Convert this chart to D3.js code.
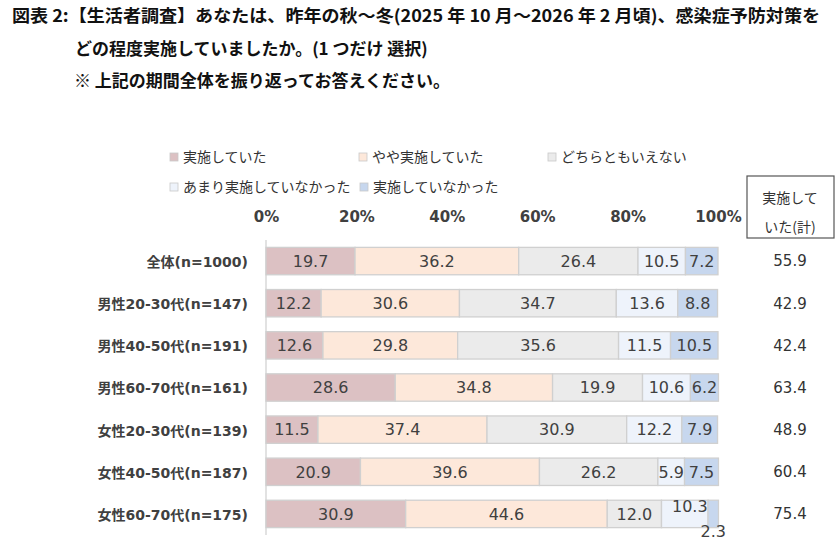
<!DOCTYPE html>
<html>
<head>
<meta charset="utf-8">
<script src="https://cdn.jsdelivr.net/npm/d3@7"></script>
<style>
  body { margin: 0; background: #fff; }
  svg { display: block; }
</style>
</head>
<body>
<div id="chart"></div>
<script>
  // Chart data
  var titleLines = [
    "図表 2:【生活者調査】あなたは、昨年の秋～冬(2025 年 10 月～2026 年 2 月頃)、感染症予防対策を",
    "どの程度実施していましたか。(1 つだけ 選択)",
    "※ 上記の期間全体を振り返ってお答えください。"
  ];
  var categories = ["全体(n=1000)", "男性20-30代(n=147)", "男性40-50代(n=191)", "男性60-70代(n=161)",
                    "女性20-30代(n=139)", "女性40-50代(n=187)", "女性60-70代(n=175)"];
  var seriesNames = ["実施していた", "やや実施していた", "どちらともいえない", "あまり実施していなかった", "実施していなかった"];
  var seriesColors = ["#dcc1c3", "#fde8da", "#ebebeb", "#eef3fb", "#c7d7ee"];
  var jisshi        = [19.7, 12.2, 12.6, 28.6, 11.5, 20.9, 30.9];
  var yaya          = [36.2, 30.6, 29.8, 34.8, 37.4, 39.6, 44.6];
  var dochira       = [26.4, 34.7, 35.6, 19.9, 30.9, 26.2, 12.0];
  var amari         = [10.5, 13.6, 11.5, 10.6, 12.2, 5.9, 10.3];
  var nashi         = [7.2, 8.8, 10.5, 6.2, 7.9, 7.5, 2.3];
  var totals        = [55.9, 42.9, 42.4, 63.4, 48.9, 60.4, 75.4];
  var tickValues    = [0, 20, 40, 60, 80, 100];
  var totalHeader   = ["実施して", "いた(計)"];

  var width = 840, height = 543;
  var sans = "'DejaVu Sans', 'Noto Sans CJK JP', sans-serif";
  var jp = "'Noto Sans CJK JP', sans-serif";

  var svg = d3.select("#chart").append("svg")
      .attr("width", width)
      .attr("height", height);

  // Title
  var titleY = [22, 55, 87];
  var titleX = [12, 75, 74];
  titleLines.forEach(function(t, i) {
    var txt = svg.append("text")
      .attr("x", titleX[i])
      .attr("y", titleY[i])
      .attr("font-family", jp)
      .attr("font-weight", 700)
      .attr("font-size", 17)
      .attr("fill", "#111")
      .text(t);
    if (i === 0) txt.attr("textLength", 808).attr("lengthAdjust", "spacingAndGlyphs");
  });

  // Legend
  var legendPos = [[170, 157], [359, 157], [548, 157], [170, 187], [360, 187]];
  seriesNames.forEach(function(name, i) {
    var g = svg.append("g").attr("transform", "translate(" + legendPos[i][0] + "," + legendPos[i][1] + ")");
    g.append("rect")
      .attr("x", 0).attr("y", -4)
      .attr("width", 8).attr("height", 8)
      .attr("fill", seriesColors[i])
      .attr("stroke", "#c8c8c8")
      .attr("stroke-width", 0.8);
    g.append("text")
      .attr("x", 13)
      .attr("y", 0)
      .attr("dy", "0.36em")
      .attr("font-family", jp)
      .attr("font-size", 14)
      .attr("fill", "#333")
      .text(name);
  });

  // Scales
  var x = d3.scaleLinear().domain([0, 100]).range([266, 718]);
  var y = d3.scaleBand().domain(categories).range([240, 535]).paddingInner(0.35).paddingOuter(0.175);

  // Top percentage axis
  var xAxis = d3.axisTop(x).tickValues(tickValues).tickSize(0).tickFormat(function(d) { return d + "%"; });
  var ax = svg.append("g").attr("transform", "translate(0,225)").call(xAxis);
  ax.select(".domain").remove();
  ax.selectAll("text")
    .attr("font-family", sans)
    .attr("font-weight", "bold")
    .attr("font-size", 15)
    .attr("fill", "#404040")
    .attr("dy", 0);

  // Category axis
  var yAxis = d3.axisLeft(y).tickSize(0).tickPadding(18);
  var ay = svg.append("g").attr("transform", "translate(266,0)").call(yAxis);
  ay.select(".domain").attr("stroke", "#d9d9d9").attr("stroke-width", 1.5).attr("d", "M0,240V535");
  ay.selectAll("text")
    .attr("font-family", sans)
    .attr("font-weight", "bold")
    .attr("font-size", 14)
    .attr("fill", "#404040")
    .attr("dy", "0.42em");

  // Stack the series
  var rows = categories.map(function(c, i) {
    return { cat: c, s0: jisshi[i], s1: yaya[i], s2: dochira[i], s3: amari[i], s4: nashi[i] };
  });
  var keys = ["s0", "s1", "s2", "s3", "s4"];
  var stacked = d3.stack().keys(keys)(rows);

  var layers = svg.selectAll("g.layer")
    .data(stacked)
    .enter()
    .append("g")
    .attr("class", "layer")
    .attr("fill", function(d, i) { return seriesColors[i]; });

  layers.selectAll("rect")
    .data(function(d) { return d; })
    .enter()
    .append("rect")
    .attr("x", function(d) { return x(d[0]); })
    .attr("y", function(d) { return y(d.data.cat); })
    .attr("width", function(d) { return x(d[1]) - x(d[0]); })
    .attr("height", y.bandwidth())
    .attr("stroke", "#d0d0d0")
    .attr("stroke-width", 1.3);

  // Value labels (last row's two small segments are pushed up/down)
  layers.each(function(layer, li) {
    d3.select(this).selectAll("text")
      .data(layer)
      .enter()
      .append("text")
      .attr("x", function(d, ri) {
        var cx = (x(d[0]) + x(d[1])) / 2;
        if (ri === 6 && li === 3) return cx + 5;
        return cx;
      })
      .attr("y", function(d, ri) {
        var cy = y(d.data.cat) + y.bandwidth() / 2;
        if (ri === 6 && li === 3) return cy - 8;
        if (ri === 6 && li === 4) return cy + 17;
        return cy;
      })
      .attr("dy", "0.36em")
      .attr("text-anchor", "middle")
      .attr("font-family", sans)
      .attr("font-size", 16)
      .attr("fill", "#404040")
      .text(function(d) { return (d[1] - d[0]).toFixed(1); });
  });

  // Totals column
  svg.append("rect")
    .attr("x", 747).attr("y", 176)
    .attr("width", 87).attr("height", 62)
    .attr("fill", "#fff")
    .attr("stroke", "#555")
    .attr("stroke-width", 1.2);
  totalHeader.forEach(function(t, i) {
    svg.append("text")
      .attr("x", 790)
      .attr("y", 198 + i * 29)
      .attr("dy", "0.36em")
      .attr("text-anchor", "middle")
      .attr("font-family", jp)
      .attr("font-size", 14)
      .attr("fill", "#333")
      .text(t);
  });
  svg.selectAll("text.total")
    .data(totals)
    .enter()
    .append("text")
    .attr("class", "total")
    .attr("x", 790)
    .attr("y", function(d, i) { return y(categories[i]) + y.bandwidth() / 2; })
    .attr("dy", "0.36em")
    .attr("text-anchor", "middle")
    .attr("font-family", sans)
    .attr("font-size", 15)
    .attr("fill", "#333")
    .text(function(d) { return d.toFixed(1); });
</script>
</body>
</html>
